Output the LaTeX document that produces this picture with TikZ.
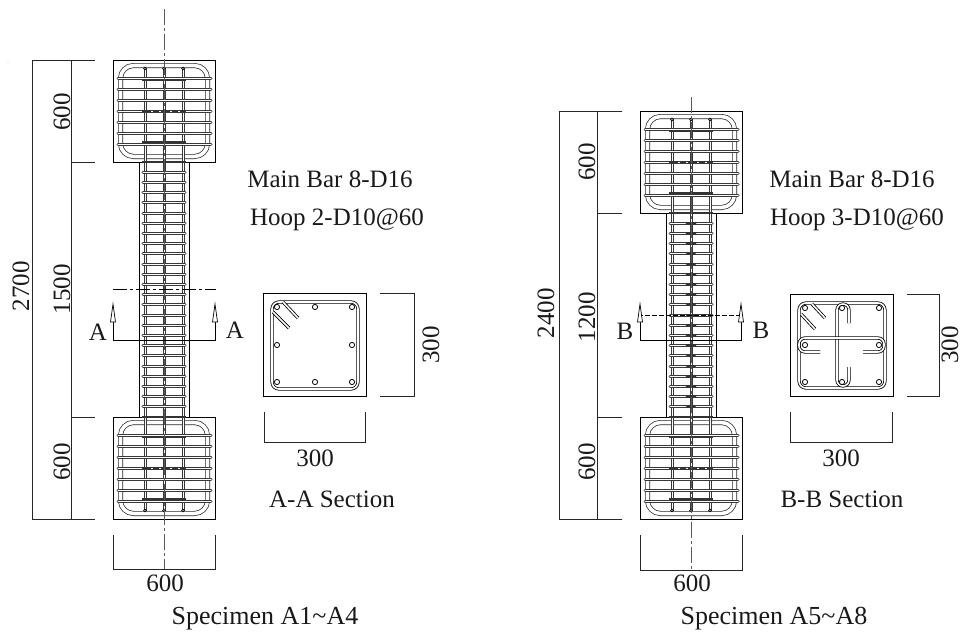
\documentclass[tikz,border=0pt]{standalone}
\usepackage{fontspec}
\setmainfont{Liberation Serif}
\tikzset{
 ln/.style={line width=.7pt,black},
 dimln/.style={line width=.8pt,black!85},
 barout/.style={line width=3pt,black!78},
 barin/.style={line width=1pt,white},
 sdbl/.style={double=white,double distance=1.6pt,line width=.8pt,draw=black},
 stirrup/.style={double=white,double distance=3.6pt,line width=.7pt,draw=black!85},
 thickbar/.style={line width=1.8pt,black!80},
 cl/.style={line width=.8pt,black!65,dash pattern=on 16pt off 3pt on 3pt off 3pt},
 arr/.style={line width=.7pt,fill=white,draw=black},
 tx/.style={font=\fontsize{25}{27}\selectfont,inner sep=0pt,text=black!90},
 captxt/.style={font=\fontsize{26}{28}\selectfont,inner sep=0pt,text=black!90},
 rebar/.style={line width=.8pt,draw=black,fill=white},
}
% a steel bar drawn as a double line: round ends for ties, flat ends for verticals
\newcommand{\tiebar}[4]{\draw[barout,line cap=round] (#1,#2) -- (#3,#4);\draw[barin,line cap=round] (#1,#2) -- (#3,#4);}
\newcommand{\flatbar}[4]{\draw[barout] (#1,#2) -- (#3,#4);\draw[barin] (#1,#2) -- (#3,#4);}
\newcommand{\rcblock}[3]{% cx cy yscale
 \begin{scope}[shift={(#1,#2)},yscale=#3]
  \draw[ln,fill=white] (-51,-51) rectangle (51,51);
  \draw[stirrup,rounded corners=13pt] (-43.5,-45.5) rectangle (43.5,45.5);
  \foreach \bx in {-19,0,19}{\flatbar{\bx}{-43}{\bx}{51}\draw[line width=.7pt,fill=white] (\bx,-42.5) circle (1.4);}
  \foreach \by in {-33,-22,-11,0,11,22,33}{\tiebar{-46}{\by}{47}{\by}}
  \draw[thickbar] (-22,-31) -- (22,-31);
  \draw[thickbar] (-22,31) -- (22,31);
  \draw[thickbar] (-22,51) -- (22,51);
  \draw[line width=1.8pt,black!80,dash pattern=on 9pt off 2pt on 6pt off 2pt] (-22,0) -- (22,0);
 \end{scope}}
\newcommand{\rccol}[3]{% cx ytop ybottom
 \draw[ln] (#1-25,#2) -- (#1-25,#3) (#1+25,#2) -- (#1+25,#3);
 \foreach \bx in {-19,0,19}{\pgfmathsetmacro{\bxx}{#1+\bx}\flatbar{\bxx}{#2}{\bxx}{#3}}
 \pgfmathsetmacro{\yfirst}{#2+10.2}\pgfmathsetmacro{\ysecond}{#2+20.4}
 \pgfmathsetmacro{\xa}{#1-21}\pgfmathsetmacro{\xb}{#1+21}
 \foreach \by in {\yfirst,\ysecond,...,#3}{\tiebar{\xa}{\by}{\xb}{\by}}
}
\begin{document}
\begin{tikzpicture}[x=1pt,y=-1pt]
\useasboundingbox (0,0) rectangle (962,632);
\fill[black!60] (8,62) circle (.4);
%% ---------- specimen A1~A4
\rccol{164}{162}{417}
\rcblock{164}{111}{1}
\rcblock{164}{468}{-1}
\draw[cl] (164,9) -- (164,570);
\draw[dimln] (95,60) -- (32,60) -- (32,519) -- (95,519);
\draw[dimln] (71,60) -- (71,519) (71,162) -- (95,162) (71,417) -- (95,417);
\node[tx,rotate=90] (d2700) at (21,286) {2700};
\node[tx,rotate=90] (d1500) at (62,289) {1500};
\node[tx,rotate=90] (d600a) at (62,112) {600};
\node[tx,rotate=90] (d600b) at (62,462) {600};
\draw[dimln] (113,535) -- (113,569) -- (215,569) -- (215,535);
\node[tx] (d600c) at (165,583) {600};
\node[captxt] (capA) at (265,619) {Specimen A1\char`~A4};
% cut A
\draw[line width=.8pt,black,dash pattern=on 14pt off 3pt on 3pt off 3pt] (113,289) -- (216,289);
\draw[ln] (113,322) -- (113,340) -- (215,340) -- (215,322);
\draw[arr] (113,304) -- (115.5,322) -- (110.5,322) -- cycle;
\draw[arr] (215,304) -- (217.5,322) -- (212.5,322) -- cycle;
\node[tx] (aL) at (98,332) {A};
\node[tx] (aR) at (235,330) {A};
% section A
\draw[ln] (263.5,293.5) rectangle (366,396);
\draw[sdbl,rounded corners=7pt] (272,302) rectangle (358,389);
\foreach \bx/\by in {277/307,315/307,352/307,277/345,352/345,277/382,315/382,352/382}{\draw[rebar] (\bx,\by) circle (2.6);}
\draw[sdbl,line cap=butt] (283,302) -- (298,318);
\draw[sdbl,line cap=butt] (273,312) -- (289,328);
\draw[dimln] (380,293.5) -- (414,293.5) -- (414,396) -- (380,396);
\node[tx,rotate=90] (s300a) at (431,345) {300};
\draw[dimln] (264,412) -- (264,442) -- (365,442) -- (365,412);
\node[tx] (s300b) at (315,458) {300};
\node[tx] (secA) at (332,499) {A-A Section};
\node[tx] (mainA) at (330,179) {Main Bar 8-D16};
\node[tx] (hoopA) at (337,220) {Hoop 2-D10@60};
%% ---------- specimen A5~A8
\rccol{691}{213}{417}
\rcblock{691}{162}{1}
\rcblock{691}{468}{-1}
\foreach \by in {223.2,233.4,...,417}{\draw[line width=2.6pt,black!80,line cap=round] (687,\by) -- (695,\by);}
\draw[cl] (691,97) -- (691,570);
\draw[dimln] (622,111) -- (559,111) -- (559,519) -- (622,519);
\draw[dimln] (597,111) -- (597,519) (597,213) -- (622,213) (597,417) -- (622,417);
\node[tx,rotate=90] (d2400) at (546,313) {2400};
\node[tx,rotate=90] (d1200) at (587,317) {1200};
\node[tx,rotate=90] (d600d) at (587,162) {600};
\node[tx,rotate=90] (d600e) at (587,462) {600};
\draw[dimln] (640,535) -- (640,570) -- (742,570) -- (742,535);
\node[tx] (d600f) at (692,583) {600};
\node[captxt] (capB) at (774,619) {Specimen A5\char`~A8};
% cut B
\draw[line width=.8pt,black,dash pattern=on 5pt off 2pt] (638,315) -- (740,315);
\draw[ln] (640,322) -- (640,340) -- (741,340) -- (741,322);
\draw[arr] (640,304) -- (642.5,322) -- (637.5,322) -- cycle;
\draw[arr] (741,304) -- (743.5,322) -- (738.5,322) -- cycle;
\node[tx] (bL) at (625,331) {B};
\node[tx] (bR) at (761,330) {B};
% section B
\draw[ln] (790.5,294) rectangle (893,396);
\draw[sdbl,rounded corners=7pt] (799,303) rectangle (885,388);
\draw[sdbl,rounded corners=6pt,line cap=butt] (849,323) -- (849,304) -- (837,304) -- (837,386) -- (849,386) -- (849,367);
\draw[sdbl,rounded corners=6pt,line cap=butt] (820,352) -- (799,352) -- (799,338) -- (884,338) -- (884,352) -- (863,352);
\foreach \bx/\by in {805/308,842/308,879/308,805/345,879/345,805/382,842/382,879/382}{\draw[rebar] (\bx,\by) circle (2.6);}
\draw[sdbl,line cap=butt] (812,304) -- (825,318);
\draw[sdbl,line cap=butt] (801,314) -- (815,329);
\draw[dimln] (907,294) -- (939,294) -- (939,396) -- (907,396);
\node[tx,rotate=90] (s300c) at (950,345) {300};
\draw[dimln] (790.5,412) -- (790.5,442) -- (892.5,442) -- (892.5,412);
\node[tx] (s300d) at (841,458) {300};
\node[tx] (secB) at (842,499) {B-B Section};
\node[tx] (mainB) at (852,179) {Main Bar 8-D16};
\node[tx] (hoopB) at (857,220) {Hoop 3-D10@60};
\end{tikzpicture}
\end{document}
